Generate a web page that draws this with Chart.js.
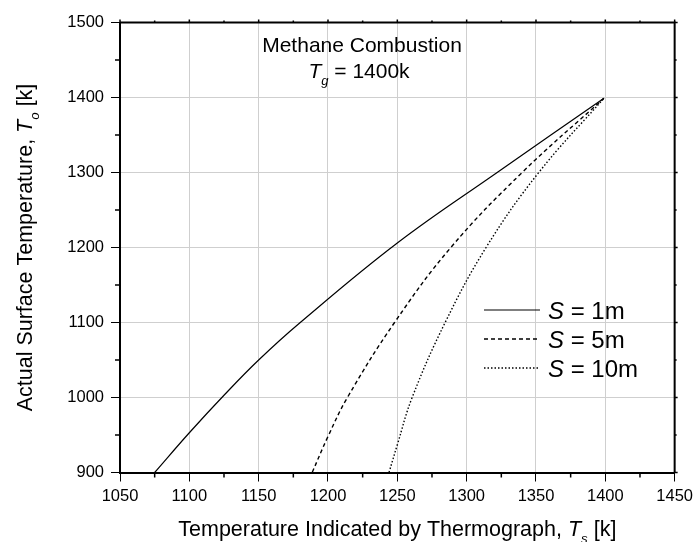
<!DOCTYPE html>
<html>
<head>
<meta charset="utf-8">
<script src="https://cdn.jsdelivr.net/npm/chart.js@4.4.0/dist/chart.umd.min.js"></script>
<style>
  body { margin: 0; background: #fff; }
  canvas { display: block; }
</style>
</head>
<body>
<canvas id="myChart" width="698" height="542"></canvas>
<script>
// Var for data
var ts1 = [1075, 1100, 1125, 1150, 1180, 1250, 1322, 1399];
var to1 = [900, 953, 1003, 1050, 1100, 1206, 1300, 1399];

var ts5 = [1188.6, 1200, 1214, 1248, 1288.6, 1340, 1399];
var to5 = [900, 948, 1000, 1100, 1200, 1300, 1399];

var ts10 = [1244, 1250, 1260.7, 1284.5, 1314, 1352, 1399];
var to10 = [900, 937, 1000, 1100, 1200, 1300, 1399];

var seriesNames = ['1m', '5m', '10m'];
var xTicks = { min: 1050, max: 1450, step: 50, minor: 25 };
var yTicks = { min: 900, max: 1500, step: 100, minor: 50 };

var FONT = "'Liberation Sans', Arial, Helvetica, sans-serif";

function toPoints(xs, ys) {
  var out = [];
  for (var i = 0; i < xs.length; i++) {
    out.push({ x: xs[i], y: ys[i] });
  }
  return out;
}

// draws a line of text made of pieces: {t, it (italic), sub}
function drawRich(ctx, parts, x, y, size, align) {
  var w = 0;
  for (var i = 0; i < parts.length; i++) {
    var p = parts[i];
    var s = p.sub ? size * 0.62 : size;
    ctx.font = (p.it ? 'italic ' : '') + s + 'px ' + FONT;
    p._w = ctx.measureText(p.t).width;
    w += p._w;
  }
  var cx = align === 'center' ? x - w / 2 : x;
  ctx.textAlign = 'left';
  ctx.textBaseline = 'alphabetic';
  for (var i = 0; i < parts.length; i++) {
    var p = parts[i];
    var s = p.sub ? size * 0.62 : size;
    ctx.font = (p.it ? 'italic ' : '') + s + 'px ' + FONT;
    ctx.fillText(p.t, cx, p.sub ? y + size * 0.32 : y);
    cx += p._w;
  }
}

var extras = {
  id: 'extras',
  afterDraw: function (chart) {
    var ctx = chart.ctx;
    var a = chart.chartArea;
    var xs = chart.scales.x;
    var ys = chart.scales.y;
    ctx.save();
    ctx.fillStyle = '#000';
    ctx.strokeStyle = '#000';

    // frame top and right
    ctx.lineWidth = 2;
    ctx.beginPath();
    ctx.moveTo(a.left, a.top);
    ctx.lineTo(a.right, a.top);
    ctx.lineTo(a.right, a.bottom);
    ctx.stroke();

    // minor and top/right ticks
    ctx.lineWidth = 1.5;
    ctx.beginPath();
    for (var v = xTicks.min; v <= xTicks.max; v += xTicks.minor) {
      var px = xs.getPixelForValue(v);
      var major = (v - xTicks.min) % xTicks.step === 0;
      if (!major) {
        ctx.moveTo(px, a.bottom);
        ctx.lineTo(px, a.bottom + 5);
      }
      ctx.moveTo(px, a.top);
      ctx.lineTo(px, a.top - (major ? 3 : 2));
    }
    for (var v = yTicks.min; v <= yTicks.max; v += yTicks.minor) {
      var py = ys.getPixelForValue(v);
      var major = (v - yTicks.min) % yTicks.step === 0;
      if (!major) {
        ctx.moveTo(a.left, py);
        ctx.lineTo(a.left - 5, py);
      }
      ctx.moveTo(a.right, py);
      ctx.lineTo(a.right + (major ? 3 : 2), py);
    }
    ctx.stroke();

    // axis titles
    drawRich(ctx, [
      { t: 'Temperature Indicated by Thermograph, ' },
      { t: 'T', it: true },
      { t: 's', it: true, sub: true },
      { t: ' [k]' }
    ], (a.left + a.right) / 2, 536, 21.5, 'center');

    ctx.save();
    ctx.translate(32, (a.top + a.bottom) / 2);
    ctx.rotate(-Math.PI / 2);
    drawRich(ctx, [
      { t: 'Actual Surface Temperature, ' },
      { t: 'T', it: true },
      { t: 'o', it: true, sub: true },
      { t: ' [k]' }
    ], 0, 0, 21.5, 'center');
    ctx.restore();

    // annotation
    drawRich(ctx, [{ t: 'Methane Combustion' }], 362, 51.5, 21, 'center');
    drawRich(ctx, [
      { t: 'T', it: true },
      { t: 'g', it: true, sub: true },
      { t: ' = 1400k' }
    ], 359, 78, 21, 'center');

    // legend
    var rows = [310, 339, 368];
    for (var i = 0; i < chart.data.datasets.length; i++) {
      var ds = chart.data.datasets[i];
      ctx.save();
      ctx.lineWidth = ds.borderWidth;
      ctx.setLineDash(ds.borderDash || []);
      ctx.beginPath();
      ctx.moveTo(484, rows[i]);
      ctx.lineTo(540, rows[i]);
      ctx.stroke();
      ctx.restore();
      drawRich(ctx, [
        { t: 'S', it: true },
        { t: ' = ' + seriesNames[i] }
      ], 548, rows[i] + 8.5, 24, 'left');
    }
    ctx.restore();
  }
};

var tickFont = { family: FONT, size: 16.5 };

var ctx = document.getElementById('myChart');
var myChart = new Chart(ctx, {
  type: 'line',
  data: {
    datasets: [
      {
        label: 'S = 1m',
        data: toPoints(ts1, to1),
        borderColor: '#000',
        borderWidth: 1.2,
        pointRadius: 0,
        fill: false,
        tension: 0.4
      },
      {
        label: 'S = 5m',
        data: toPoints(ts5, to5),
        borderColor: '#000',
        borderWidth: 1.4,
        borderDash: [4, 3],
        pointRadius: 0,
        fill: false,
        tension: 0.4
      },
      {
        label: 'S = 10m',
        data: toPoints(ts10, to10),
        borderColor: '#000',
        borderWidth: 1.4,
        borderDash: [1.5, 2],
        pointRadius: 0,
        fill: false,
        tension: 0.4
      }
    ]
  },
  options: {
    responsive: false,
    animation: false,
    devicePixelRatio: 1,
    layout: { padding: { left: 0, top: 22.5, right: 18, bottom: 0 } },
    plugins: {
      legend: { display: false },
      tooltip: { enabled: false }
    },
    scales: {
      x: {
        type: 'linear',
        min: xTicks.min,
        max: xTicks.max,
        ticks: {
          stepSize: xTicks.step,
          color: '#000',
          font: tickFont,
          padding: 5,
          maxRotation: 0,
          callback: function (v) { return String(v); }
        },
        grid: { color: '#cfcfcf', lineWidth: 1, tickColor: '#000', tickLength: 9 },
        border: { color: '#000', width: 2 },
        afterFit: function (s) { s.height = 69.5; }
      },
      y: {
        type: 'linear',
        min: yTicks.min,
        max: yTicks.max,
        ticks: {
          stepSize: yTicks.step,
          color: '#000',
          font: tickFont,
          padding: 7,
          callback: function (v) { return String(v); }
        },
        grid: { color: '#cfcfcf', lineWidth: 1, tickColor: '#000', tickLength: 9 },
        border: { color: '#000', width: 2 },
        afterFit: function (s) { s.width = 120; }
      }
    }
  },
  plugins: [extras]
});
</script>
</body>
</html>
